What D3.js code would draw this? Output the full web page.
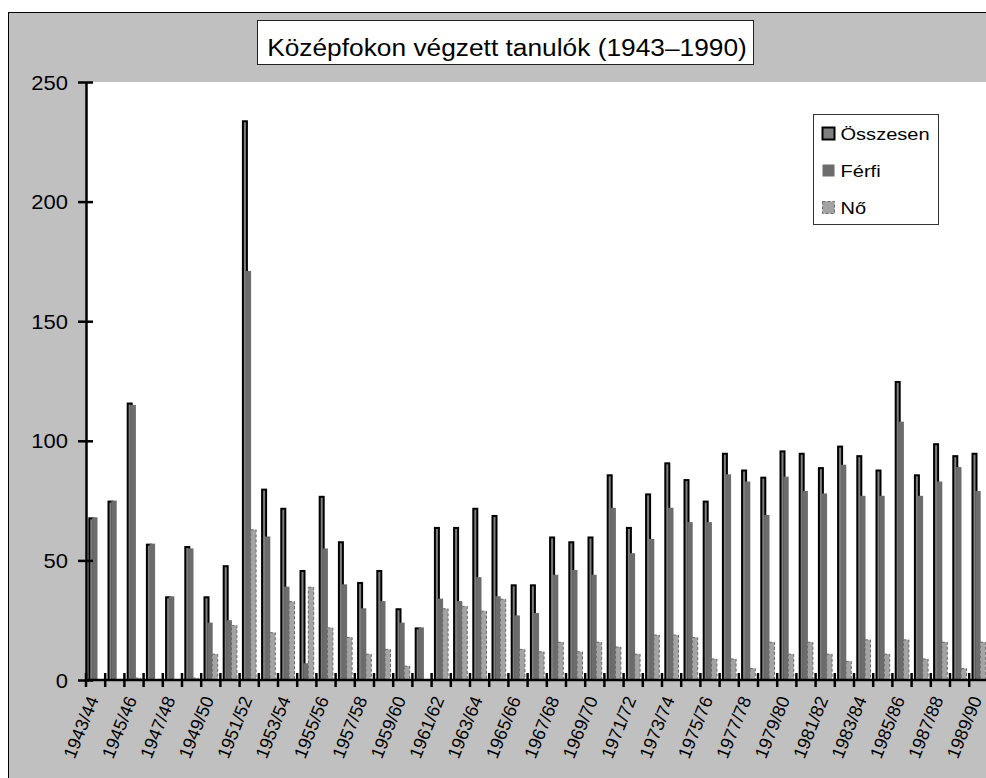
<!DOCTYPE html>
<html>
<head>
<meta charset="utf-8">
<script src="https://cdn.jsdelivr.net/npm/d3@7"></script>
<style>
  body { margin: 0; background: white; }
  text { font-family: "Liberation Sans", Arial, sans-serif; fill: black; }
</style>
</head>
<body>
<svg id="chart" width="986" height="778"></svg>
<script>
var cats = ["1943/44","1944/45","1945/46","1946/47","1947/48","1948/49","1949/50","1950/51",
  "1951/52","1952/53","1953/54","1954/55","1955/56","1956/57","1957/58","1958/59",
  "1959/60","1960/61","1961/62","1962/63","1963/64","1964/65","1965/66","1966/67",
  "1967/68","1968/69","1969/70","1970/71","1971/72","1972/73","1973/74","1974/75",
  "1975/76","1976/77","1977/78","1978/79","1979/80","1980/81","1981/82","1982/83",
  "1983/84","1984/85","1985/86","1986/87","1987/88","1988/89","1989/90"];

var osszesen = [68,75,116,57,35,56,35,48,234,80,72,46,77,58,41,46,30,22,64,64,72,69,40,40,
  60,58,60,86,64,78,91,84,75,95,88,85,96,95,89,98,94,88,125,86,99,94,95];
var ferfi = [68,75,115,57,35,55,24,25,171,60,39,7,55,40,30,33,24,22,34,33,43,35,27,28,
  44,46,44,72,53,59,72,66,66,86,83,69,85,79,78,90,77,77,108,77,83,89,79];
var no = [0,0,1,0,0,1,11,23,63,20,33,39,22,18,11,13,6,0,30,31,29,34,13,12,
  16,12,16,14,11,19,19,18,9,9,5,16,11,16,11,8,17,11,17,9,16,5,16];

var seriesNames = ["Összesen", "Férfi", "Nő"];
var yTicks = [0, 50, 100, 150, 200, 250];
var titleText = "Középfokon végzett tanulók (1943–1990)";

// look of each series (Excel style)
var look = {
  "Összesen": {fill: "#808080", stroke: "#000", sw: 2, dash: null, dx: 3.3, w: 4},
  "Férfi":    {fill: "#6c6c6c", stroke: "none", sw: 0, dash: null, dx: 6.1, w: 5.4},
  "Nő":       {fill: "#a4a4a4", stroke: "#6a6a6a", sw: 1, dash: "3,2", dx: 11.1, w: 5.4}
};

var rows = cats.map(function(c, i) {
  return {cat: c, "Összesen": osszesen[i], "Férfi": ferfi[i], "Nő": no[i]};
});

var svg = d3.select("#chart");

var plotLeft = 86, plotTop = 82, plotBottom = 680, step = 19.2;

var x = d3.scaleBand()
  .domain(cats)
  .range([plotLeft, plotLeft + cats.length * step])
  .padding(0);

var y = d3.scaleLinear()
  .domain([0, 250])
  .range([plotBottom, plotTop]);

// outer frame + plot area
svg.append("rect")
  .attr("x", 8.5).attr("y", 12.5)
  .attr("width", 1000).attr("height", 800)
  .attr("fill", "#c0c0c0")
  .attr("stroke", "#000").attr("stroke-width", 1);

svg.append("rect")
  .attr("x", plotLeft).attr("y", plotTop)
  .attr("width", 1000).attr("height", plotBottom - plotTop)
  .attr("fill", "#fff");

// bars
var groups = svg.append("g").selectAll("g")
  .data(rows)
  .enter()
  .append("g")
  .attr("transform", function(d) { return "translate(" + x(d.cat) + ",0)"; });

groups.selectAll("rect")
  .data(function(d) { return seriesNames.map(function(k) { return {key: k, value: d[k]}; }); })
  .enter()
  .append("rect")
    .attr("x", function(d) { return look[d.key].dx; })
    .attr("width", function(d) { return look[d.key].w; })
    .attr("y", function(d) { return y(d.value) + look[d.key].sw / 2; })
    .attr("height", function(d) { return Math.max(0, plotBottom - y(d.value) - look[d.key].sw / 2); })
    .attr("fill", function(d) { return look[d.key].fill; })
    .attr("stroke", function(d) { return d.value > 0 ? look[d.key].stroke : "none"; })
    .attr("stroke-width", function(d) { return look[d.key].sw; })
    .attr("stroke-dasharray", function(d) { return look[d.key].dash; });

// y axis
var yAxis = d3.axisLeft(y).tickValues(yTicks).tickSize(8).tickSizeOuter(0);
var gy = svg.append("g")
  .attr("transform", "translate(" + plotLeft + ",0)")
  .call(yAxis);
gy.select(".domain").attr("stroke", "#000").attr("stroke-width", 2.5);
gy.selectAll(".tick line").attr("x1", 7).attr("x2", -8).attr("stroke-width", 2.5);
gy.selectAll(".tick text")
  .attr("x", null)
  .attr("dy", "0.35em")
  .attr("transform", "translate(-18,0) scale(1.1,1)")
  .style("font-size", "20px")
  .style("font-family", "'Liberation Sans', Arial, sans-serif");

// x axis: line, ticks at category boundaries, every other label
svg.append("line")
  .attr("x1", plotLeft).attr("x2", 990)
  .attr("y1", plotBottom).attr("y2", plotBottom)
  .attr("stroke", "#000").attr("stroke-width", 2.5);

svg.append("g").selectAll("line")
  .data(cats)
  .enter()
  .append("line")
    .attr("x1", function(d) { return x(d); })
    .attr("x2", function(d) { return x(d); })
    .attr("y1", plotBottom - 7).attr("y2", plotBottom + 7)
    .attr("stroke", "#000").attr("stroke-width", 2.5);

svg.append("g").selectAll("text")
  .data(cats.filter(function(d, i) { return i % 2 == 0; }))
  .enter()
  .append("text")
    .attr("transform", function(d) {
      return "translate(" + (x(d) + x.bandwidth() / 2 - 2.5) + "," + (plotBottom + 17) + ") rotate(-68)";
    })
    .attr("text-anchor", "end")
    .attr("dy", "0.35em")
    .style("font-size", "18px")
    .text(function(d) { return d; });

// title
svg.append("rect")
  .attr("x", 257.5).attr("y", 20.5)
  .attr("width", 496).attr("height", 44)
  .attr("fill", "#fff").attr("stroke", "#222");
svg.append("text")
  .attr("transform", "translate(507,55.5) scale(1.12,1)")
  .attr("text-anchor", "middle")
  .style("font-size", "23.5px")
  .text(titleText);

// legend
var legend = svg.append("g").attr("transform", "translate(813.5,114.5)");
legend.append("rect")
  .attr("width", 125).attr("height", 110)
  .attr("fill", "#fff").attr("stroke", "#333");

var ly = d3.scalePoint().domain(seriesNames).range([19, 93]);

var items = legend.selectAll(".item")
  .data(seriesNames)
  .enter()
  .append("g")
  .attr("class", "item")
  .attr("transform", function(d) { return "translate(0," + ly(d) + ")"; });

items.append("rect")
  .attr("x", 9).attr("y", -6)
  .attr("width", 12).attr("height", 12)
  .attr("fill", function(d) { return look[d].fill; })
  .attr("stroke", function(d) { return look[d].stroke; })
  .attr("stroke-width", function(d) { return look[d].sw; })
  .attr("stroke-dasharray", function(d) { return look[d].dash; });

items.append("text")
  .attr("transform", "translate(27,6) scale(1.18,1)")
  .style("font-size", "17px")
  .text(function(d) { return d; });
</script>
</body>
</html>
